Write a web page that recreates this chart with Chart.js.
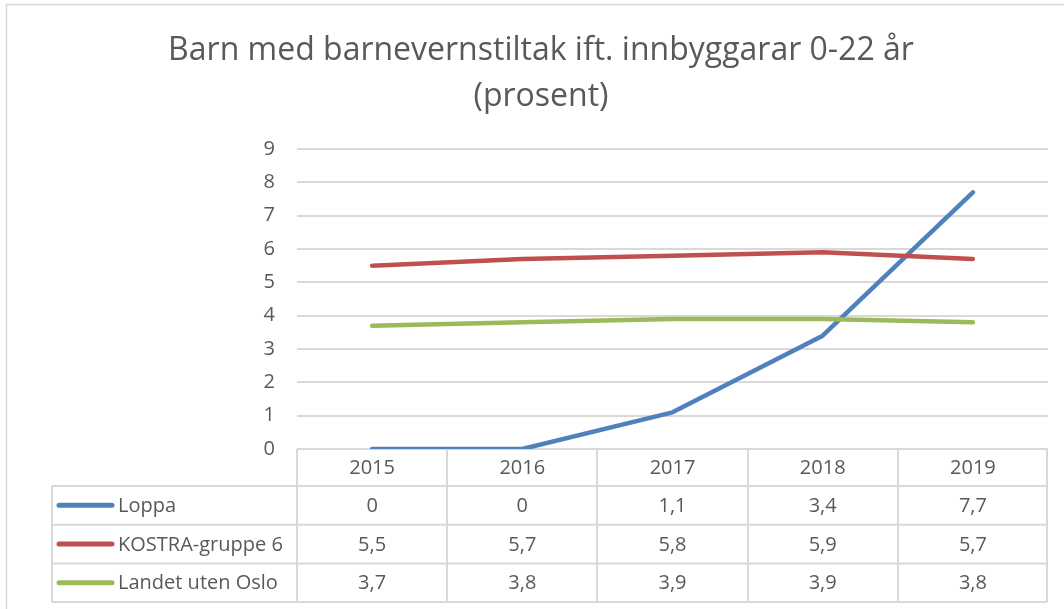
<!DOCTYPE html>
<html>
<head>
<meta charset="utf-8">
<script src="https://cdn.jsdelivr.net/npm/chart.js@4.4.1/dist/chart.umd.min.js"></script>
<style>
  html, body { margin: 0; padding: 0; background: #ffffff; }
  #wrap { position: relative; width: 1064px; height: 609px; }
</style>
</head>
<body>
<div id="wrap"><canvas id="chart"></canvas></div>
<script>
// Years on the category axis
const categories = ['2015', '2016', '2017', '2018', '2019'];

// Share of residents aged 0-22 with child welfare measures (percent)
const loppa = [0, 0, 1.1, 3.4, 7.7];
const kostraGruppe6 = [5.5, 5.7, 5.8, 5.9, 5.7];
const landetUtenOslo = [3.7, 3.8, 3.9, 3.9, 3.8];

const seriesNames = ['Loppa', 'KOSTRA-gruppe 6', 'Landet uten Oslo'];
const seriesColors = ['#4f81bd', '#c0504d', '#9bbb59'];

const yMin = 0, yMax = 9, yStep = 1;

const titleLines = ['Barn med barnevernstiltak ift. innbyggarar 0-22 år', '(prosent)'];

const TEXT = '#595959';
const GRID = '#d9d9d9';
const FONT = '"Open Sans", Lato, sans-serif';

const fmt = v => String(v).replace('.', ',');

// Frame, title and the data table under the plot
const decorations = {
  id: 'decorations',
  beforeDraw(chart) {
    const ctx = chart.ctx;
    ctx.save();
    ctx.fillStyle = '#ffffff';
    ctx.fillRect(0, 0, chart.width, chart.height);
    ctx.strokeStyle = GRID;
    ctx.lineWidth = 1.5;
    ctx.beginPath();
    ctx.moveTo(6.5, chart.height);
    ctx.lineTo(6.5, 4.5);
    ctx.lineTo(chart.width, 4.5);
    ctx.stroke();

    ctx.fillStyle = TEXT;
    ctx.textAlign = 'center';
    ctx.textBaseline = 'alphabetic';
    ctx.font = '32px ' + FONT;
    ctx.fillText(titleLines[0], 541, 60);
    ctx.fillText(titleLines[1], 541, 106);
    ctx.restore();
  },
  afterDraw(chart) {
    const ctx = chart.ctx;
    const area = chart.chartArea;
    const xs = chart.scales.x;
    const n = categories.length;
    const colW = (area.right - area.left) / n;
    const top = area.bottom;
    const headH = 37;
    const rowH = 38.7;
    const tableLeft = 52;
    const rows = [loppa, kostraGruppe6, landetUtenOslo];
    const bottom = top + headH + rowH * rows.length;

    ctx.save();
    ctx.strokeStyle = GRID;
    ctx.lineWidth = 2;
    ctx.beginPath();
    // column separators
    for (let i = 0; i <= n; i++) {
      const x = Math.round(area.left + colW * i) - (i === n ? 1 : 0);
      ctx.moveTo(x, top);
      ctx.lineTo(x, bottom);
    }
    // row separators
    for (let r = 0; r <= rows.length; r++) {
      const y = top + headH + rowH * r;
      ctx.moveTo(tableLeft, y);
      ctx.lineTo(area.right - 1, y);
    }
    ctx.moveTo(tableLeft, top + headH);
    ctx.lineTo(tableLeft, bottom);
    ctx.stroke();

    ctx.fillStyle = TEXT;
    ctx.font = '20px ' + FONT;
    ctx.textBaseline = 'middle';
    ctx.textAlign = 'center';
    categories.forEach((c, i) => {
      ctx.fillText(c, xs.getPixelForValue(i), top + headH / 2 + 1);
    });
    rows.forEach((vals, r) => {
      const cy = top + headH + rowH * r + rowH / 2 + 1;
      vals.forEach((v, i) => {
        ctx.fillText(fmt(v), xs.getPixelForValue(i), cy);
      });
      // legend key
      ctx.strokeStyle = seriesColors[r];
      ctx.lineWidth = 5;
      ctx.lineCap = 'round';
      ctx.beginPath();
      ctx.moveTo(59, cy - 1);
      ctx.lineTo(112, cy - 1);
      ctx.stroke();
      ctx.textAlign = 'left';
      ctx.fillText(seriesNames[r], 118, cy);
      ctx.textAlign = 'center';
    });
    ctx.restore();
  }
};

const seriesData = [loppa, kostraGruppe6, landetUtenOslo];

new Chart(document.getElementById('chart'), {
  type: 'line',
  data: {
    labels: categories,
    datasets: seriesData.map((d, i) => ({
      label: seriesNames[i],
      data: d,
      borderColor: seriesColors[i],
      backgroundColor: seriesColors[i],
      borderWidth: 4.5,
      borderCapStyle: 'round',
      borderJoinStyle: 'round',
      pointRadius: 0,
      tension: 0,
      order: seriesData.length - i
    }))
  },
  options: {
    responsive: true,
    maintainAspectRatio: false,
    animation: false,
    layout: { padding: { left: 0, right: 16, top: 149, bottom: 160 } },
    plugins: {
      legend: { display: false },
      title: { display: false },
      tooltip: { enabled: false }
    },
    scales: {
      x: {
        type: 'category',
        offset: true,
        display: false
      },
      y: {
        min: yMin,
        max: yMax,
        afterFit(scale) { scale.width = 297; },
        border: { display: false },
        grid: { color: GRID, lineWidth: 2, drawTicks: false },
        ticks: {
          stepSize: yStep,
          padding: 22,
          color: TEXT,
          font: { family: FONT, size: 20 }
        }
      }
    }
  },
  plugins: [decorations]
});
</script>
</body>
</html>
